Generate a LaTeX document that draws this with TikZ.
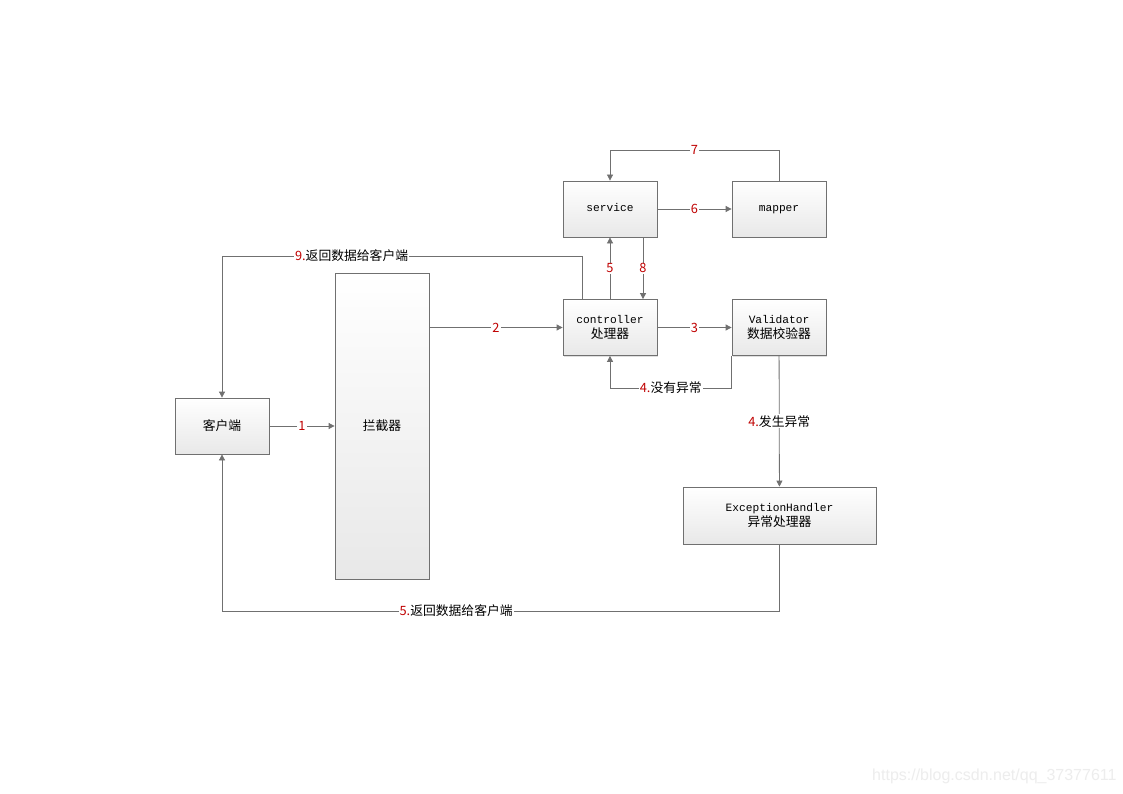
\documentclass[tikz,border=0pt]{standalone}
\usepackage{fontspec}
\setmonofont{Liberation Mono}
\newfontfamily\cjk{Noto Sans CJK SC}
\newfontfamily\wmfont{Liberation Sans}
\usetikzlibrary{arrows.meta,shadows}
\definecolor{linegray}{HTML}{707070}
\definecolor{numred}{HTML}{C00000}
\newcommand{\rn}[1]{{\color{numred}#1}}
\tikzset{
  box/.style={draw=linegray, line width=0.8pt, top color=white, bottom color=black!9,
    minimum width=94pt, minimum height=56pt, inner sep=0pt, align=center,
    font=\fontsize{11.2pt}{15pt}\selectfont\ttfamily,
    drop shadow={shadow xshift=1.2pt, shadow yshift=-1.2pt, opacity=0.25, fill=black!50}},
  conn/.style={draw=linegray, line width=0.8pt, -{Triangle[width=6pt,length=6pt]}},
  lab/.style={fill=white, inner sep=1pt, font=\fontsize{12.8pt}{14pt}\selectfont\cjk},
}
\newcommand{\bc}{\fontsize{12.8pt}{15pt}\selectfont\cjk}
\begin{document}
\begin{tikzpicture}[x=1pt,y=1pt]
\useasboundingbox (0,0) rectangle (1123,-794);
\fill[white] (0,0) rectangle (1123,-794);

\node[box] (svc) at (610,-209) {service\strut};
\node[box] (map) at (779,-209) {mapper\strut};
\node[box] (ctl) at (610,-327.5) {controller\\{\bc 处理器}};
\node[box] (val) at (779,-327.5) {Validator\\{\bc 数据校验器}};
\node[box] (cli) at (222,-426) {\bc 客户端};
\node[box, minimum height=306pt] (itc) at (382,-426) {\bc 拦截器};
\node[box, minimum width=193pt, minimum height=57pt] (exh) at (779.5,-515.5) {ExceptionHandler\\{\bc 异常处理器}};

\coordinate (x643) at (643,0);
\coordinate (x582) at (582,0);
\coordinate (y150) at (0,-150);
\coordinate (y256) at (0,-256);
\coordinate (y388) at (0,-388);
\coordinate (y611) at (0,-611);

% 1
\draw[conn] (cli) -- node[lab]{\rn{1}} (itc);
% 2
\draw[conn] (itc.east |- ctl.west) -- node[lab]{\rn{2}} (ctl.west);
% 3
\draw[conn] (ctl) -- node[lab]{\rn{3}} (val);
% 4 no exception
\draw[conn] (val.south west) -- (val.south west |- y388) -- node[lab]{\rn{4.}没有异常} (ctl.south |- y388) -- (ctl.south);
% 4 exception
\draw[conn] (val) -- node[lab]{\rn{4.}发生异常} (exh);
% 5
\draw[conn] (ctl.north) -- node[lab]{\rn{5}} (svc.south);
% 8
\draw[conn] (svc.south -| x643) -- node[lab]{\rn{8}} (ctl.north -| x643);
% 6
\draw[conn] (svc) -- node[lab]{\rn{6}} (map);
% 7
\draw[conn] (map.north) -- (map.north |- y150) -- node[lab]{\rn{7}} (svc.north |- y150) -- (svc.north);
% 9
\draw[conn] (ctl.north -| x582) -- (x582 |- y256) -- node[lab,pos=0.64]{\rn{9.}返回数据给客户端} (cli.north |- y256) -- (cli.north);
% 5 return
\draw[conn] (exh.south) -- (exh.south |- y611) -- node[lab,pos=0.58]{\rn{5.}返回数据给客户端} (cli.south |- y611) -- (cli.south);

\node[anchor=west, inner sep=0pt, text=black!7, font=\fontsize{16pt}{18pt}\selectfont\wmfont] (wm) at (872,-776) {https://blog.csdn.net/qq\_37377611};
\end{tikzpicture}
\end{document}
